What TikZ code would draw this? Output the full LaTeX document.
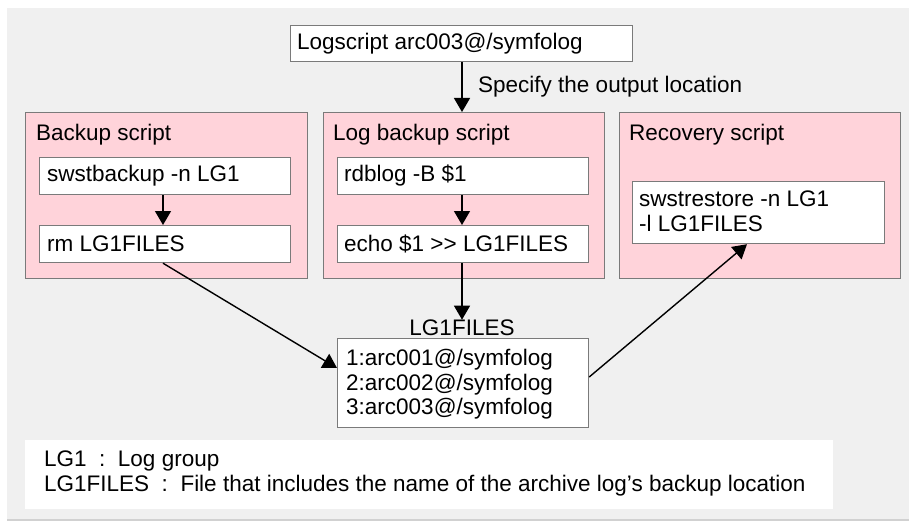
\documentclass[tikz,border=0pt]{standalone}
\usepackage{fontspec}
\setmainfont{Liberation Sans}
\usetikzlibrary{arrows.meta}
\definecolor{bggray}{HTML}{F0F0F0}
\definecolor{pinkfill}{HTML}{FFD3DA}
\definecolor{edgegray}{HTML}{7A7A7A}
\tikzset{
  txt/.style={font=\fontsize{22.5}{24.5}\selectfont, inner sep=0pt},
  panel/.style={draw=edgegray, fill=pinkfill, line width=1.2pt},
  cmdbox/.style={draw=edgegray, fill=white, line width=1.2pt},
  conn/.style={line width=1.4pt, -{Triangle[length=14pt,width=16pt]}},
}
\begin{document}
\begin{tikzpicture}[x=1pt,y=-1pt]
\useasboundingbox (0,0) rectangle (909,524);
\fill[white] (0,0) rectangle (909,524);
\fill[bggray] (7,8) rectangle (909,520);
\draw[black!18, line width=1.5pt] (7,520) -- (909,520);

% top box
\node[cmdbox, minimum width=342pt, minimum height=36pt, anchor=north west] (top) at (290,25) {};
\node[txt, anchor=west] (toptxt) at (297,44) {Logscript arc003@/symfolog};

% panels
\node[panel, minimum width=282pt, minimum height=166pt, anchor=north west] (bk) at (25,112) {};
\node[panel, minimum width=281pt, minimum height=166pt, anchor=north west] (lb) at (323,112) {};
\node[panel, minimum width=281pt, minimum height=166pt, anchor=north west] (rc) at (619,112) {};
\node[txt, anchor=west] (bkt) at (36,135) {Backup script};
\node[txt, anchor=west] (lbt) at (333,135) {Log backup script};
\node[txt, anchor=west] (rct) at (629,135) {Recovery script};

% inner boxes
\node[cmdbox, minimum width=251pt, minimum height=37pt, anchor=north west] (sb) at (39,157) {};
\node[txt, anchor=west] at (47,176) {swstbackup -n LG1};
\node[cmdbox, minimum width=251pt, minimum height=37pt, anchor=north west] (rm) at (39,225) {};
\node[txt, anchor=west] at (47,244) {rm LG1FILES};
\node[cmdbox, minimum width=251pt, minimum height=37pt, anchor=north west] (rd) at (337,157) {};
\node[txt, anchor=west] at (344,176) {rdblog -B \$1};
\node[cmdbox, minimum width=251pt, minimum height=37pt, anchor=north west] (ec) at (337,225) {};
\node[txt, anchor=west] at (344,244) {echo \$1 {>}{>} LG1FILES};
\node[cmdbox, minimum width=252pt, minimum height=62pt, anchor=north west] (sr) at (632,181) {};
\node[txt, anchor=north west, align=left] at (639,191) {swstrestore -n LG1\\-l LG1FILES};

% LG1FILES
\node[txt, anchor=south] (lgl) at (462,336) {LG1FILES};
\node[cmdbox, minimum width=251pt, minimum height=89pt, anchor=north west] (lg) at (337,338) {};
\node[txt, anchor=north west, align=left] at (346,349) {1:arc001@/symfolog\\2:arc002@/symfolog\\3:arc003@/symfolog};

% legend
\node[fill=white, minimum width=808pt, minimum height=69pt, anchor=north west, inner sep=0pt] (leg) at (25,440) {};
\node[txt, anchor=north west, align=left] at (44,451) {LG1\ \ :\ \ Log group\\LG1FILES\ \ :\ \ File that includes the name of the archive log's backup location};

% connectors
\draw[conn] (top.south -| 462,0) -- (lb.north -| 462,0);
\node[txt, anchor=west] at (478,87) {Specify the output location};
\draw[conn] (sb.south -| 163,0) -- (rm.north -| 163,0);
\draw[conn] (rd.south -| 462,0) -- (ec.north -| 462,0);
\draw[conn] (ec.south -| 462,0) -- (lgl.north -| 462,0);
\draw[conn] (rm.south -| 163,0) -- (lg.west |- 0,368);
\draw[conn] (lg.east |- 0,377) -- (sr.south -| 747,0);
\end{tikzpicture}
\end{document}
